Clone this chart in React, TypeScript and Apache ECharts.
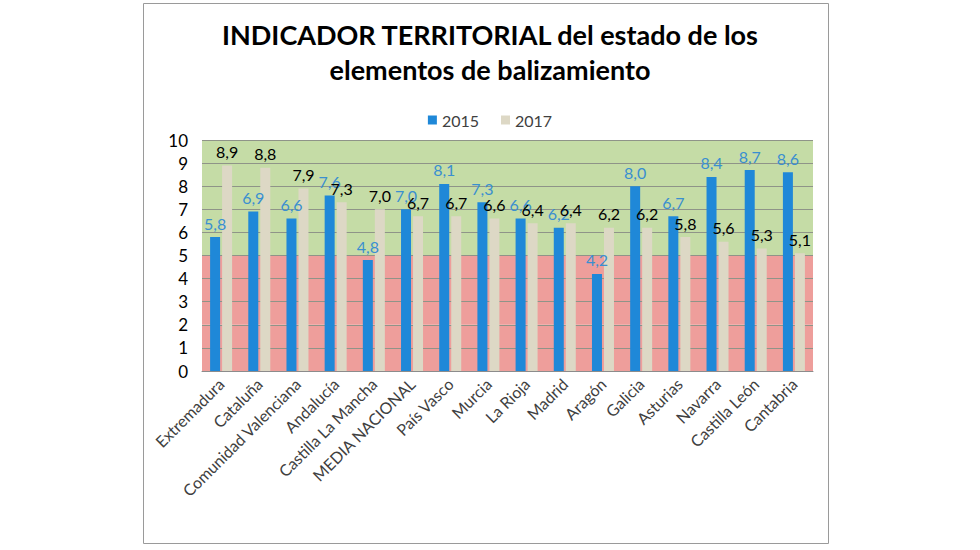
import React, { useEffect, useRef } from "react";
import * as echarts from "echarts";

const categories = [
  "Extremadura",
  "Cataluña",
  "Comunidad Valenciana",
  "Andalucía",
  "Castilla La Mancha",
  "MEDIA NACIONAL",
  "País Vasco",
  "Murcia",
  "La Rioja",
  "Madrid",
  "Aragón",
  "Galicia",
  "Asturias",
  "Navarra",
  "Castilla León",
  "Cantabria",
];
const values2015 = [5.8, 6.9, 6.6, 7.6, 4.8, 7.0, 8.1, 7.3, 6.6, 6.2, 4.2, 8.0, 6.7, 8.4, 8.7, 8.6];
const values2017 = [8.9, 8.8, 7.9, 7.3, 7.0, 6.7, 6.7, 6.6, 6.4, 6.4, 6.2, 6.2, 5.8, 5.6, 5.3, 5.1];
const titleText = "INDICADOR TERRITORIAL del estado de los\nelementos de balizamiento";

const FONT = "Lato, 'Liberation Sans', sans-serif";
const fmt = (v: number) => v.toFixed(1).replace(".", ",");

export default function App() {
  const ref = useRef<HTMLDivElement>(null);
  useEffect(() => {
    if (!ref.current) return;
    const chart = echarts.init(ref.current, undefined, { renderer: "svg" });
    const red = "#ee9e9b";
    const green = "#c5dca6";
    chart.setOption({
      animation: false,
      backgroundColor: "#ffffff",
      textStyle: { fontFamily: FONT },
      title: {
        text: titleText,
        left: "center",
        top: 12,
        textStyle: {
          fontFamily: FONT,
          fontSize: 27,
          fontWeight: "bold",
          color: "#000000",
          lineHeight: 35,
        },
      },
      legend: {
        data: ["2015", "2017"],
        top: 107,
        left: "center",
        itemWidth: 9,
        itemHeight: 9,
        itemGap: 22,
        icon: "rect",
        textStyle: { fontFamily: FONT, fontSize: 16, color: "#404040" },
      },
      graphic: [
        {
          type: "rect",
          shape: { x: 143.5, y: 3.5, width: 685, height: 540 },
          style: { fill: "none", stroke: "#9a9a9a", lineWidth: 1 },
          silent: true,
        },
      ],
      grid: { left: 202, right: 167, top: 140, bottom: 179 },
      xAxis: {
        type: "category",
        data: categories,
        axisTick: { show: false },
        axisLine: { lineStyle: { color: "#8c8c8c" } },
        axisLabel: {
          rotate: 45,
          interval: 0,
          fontFamily: FONT,
          fontSize: 16,
          color: "#404040",
          margin: 10,
        },
      },
      yAxis: {
        type: "value",
        min: 0,
        max: 10,
        interval: 1,
        axisLine: { show: false },
        axisTick: { show: false },
        axisLabel: { fontFamily: FONT, fontSize: 17, color: "#000000", margin: 14 },
        splitLine: { lineStyle: { color: "#8f9488", width: 1 } },
        splitArea: {
          show: true,
          areaStyle: { color: [red, red, red, red, red, green, green, green, green, green] },
        },
      },
      series: [
        {
          name: "2015",
          type: "bar",
          data: values2015,
          barWidth: 10,
          barGap: "20%",
          itemStyle: { color: "#1f88d8" },
          label: {
            show: true,
            position: "top",
            distance: 6,
            formatter: (p: any) => fmt(p.value),
            fontFamily: FONT,
            fontSize: 16,
            color: "#3a8fd0",
          },
        },
        {
          name: "2017",
          type: "bar",
          data: values2017,
          barWidth: 10,
          barGap: "20%",
          itemStyle: { color: "#ddd8c5" },
          label: {
            show: true,
            position: "top",
            distance: 6,
            formatter: (p: any) => fmt(p.value),
            fontFamily: FONT,
            fontSize: 16,
            color: "#000000",
          },
        },
      ],
    });
    return () => chart.dispose();
  }, []);
  return (
    <div style={{ position: "absolute", left: 0, top: 0, width: 980, height: 550 }}>
      <div ref={ref} style={{ width: 980, height: 550 }} />
    </div>
  );
}
